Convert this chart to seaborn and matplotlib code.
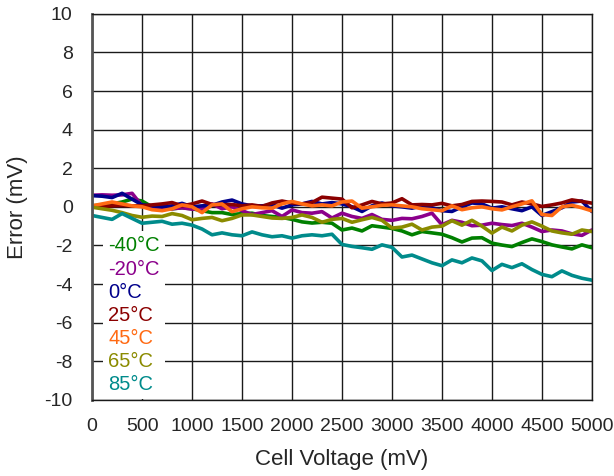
import numpy as np
import pandas as pd
import matplotlib
matplotlib.use("Agg")
import matplotlib.pyplot as plt
import seaborn as sns

# cell voltage in mV, one reading every 100 mV
voltage = list(range(0, 5001, 100))

temps = ["-40°C", "-20°C", "0°C", "25°C", "45°C", "65°C", "85°C"]
colors = ["#008000", "#8B008B", "#00008B", "#8B0000", "#FF6A13", "#8B8B00", "#008B8B"]

err_m40 = [0.05, 0.1, 0.15, 0.25, 0.4, 0.3, 0.0, -0.05, -0.1, -0.05,
           -0.1, -0.2, -0.3, -0.3, -0.4, -0.35, -0.33, -0.45, -0.5, -0.55,
           -0.65, -0.78, -0.84, -0.8, -0.85, -1.2, -1.1, -1.25, -0.98, -1.05,
           -1.12, -1.25, -1.45, -1.28, -1.35, -1.42, -1.6, -1.82, -1.62, -1.6,
           -1.88, -1.98, -2.06, -1.85, -1.66, -1.8, -1.97, -2.08, -2.18, -1.97,
           -2.12]
err_m20 = [0.6, 0.62, 0.6, 0.62, 0.7, 0.05, -0.05, -0.08, -0.1, -0.05,
           -0.12, -0.1, 0.15, -0.1, 0.0, -0.2, -0.4, -0.3, -0.2, -0.5,
           -0.16, -0.3, -0.33, -0.25, -0.58, -0.33, -0.5, -0.6, -0.4, -0.65,
           -0.7, -0.6, -0.62, -0.5, -0.33, -0.93, -0.7, -0.8, -0.98, -0.95,
           -0.85, -0.92, -0.97, -0.85, -1.05, -1.28, -1.2, -1.25, -1.4, -1.48,
           -1.2]
err_0 = [0.58, 0.55, 0.48, 0.7, 0.4, 0.1, 0.05, 0.0, 0.05, 0.18,
         0.0, 0.05, 0.08, 0.25, 0.35, 0.15, 0.05, 0.05, 0.1, -0.07,
         0.1, 0.15, 0.28, 0.15, 0.22, 0.15, 0.0, -0.24, 0.05, 0.2,
         0.05, 0.0, -0.07, 0.05, -0.05, -0.2, -0.24, 0.0, 0.2, 0.15,
         -0.07, 0.0, -0.1, -0.2, 0.0, -0.45, -0.25, -0.05, 0.25, 0.3,
         -0.24]
err_25 = [0.05, 0.02, 0.05, 0.07, 0.05, 0.05, 0.1, 0.15, 0.22, 0.05,
          0.15, 0.3, 0.12, 0.1, 0.12, 0.05, 0.1, 0.02, 0.2, 0.3,
          0.2, 0.15, 0.22, 0.5, 0.45, 0.4, -0.05, 0.1, 0.28, 0.15,
          0.2, 0.42, 0.1, 0.12, 0.1, 0.18, 0.05, 0.12, 0.28, 0.3,
          0.28, 0.25, 0.1, 0.25, 0.15, 0.02, 0.1, 0.2, 0.36, 0.28,
          0.19]
err_45 = [0.05, 0.15, 0.25, 0.15, 0.05, 0.0, -0.15, -0.2, -0.1, 0.1,
          0.0, -0.3, 0.1, 0.15, -0.25, -0.1, 0.0, -0.05, -0.07, 0.15,
          0.28, 0.15, 0.05, 0.1, 0.05, 0.25, 0.3, -0.07, 0.0, 0.08,
          0.1, 0.05, 0.0, -0.1, -0.15, -0.2, 0.05, -0.15, -0.05, 0.0,
          -0.1, -0.16, 0.0, 0.15, 0.31, -0.4, -0.45, 0.0, 0.08, -0.05,
          -0.21]
err_65 = [-0.02, -0.1, -0.18, -0.3, -0.45, -0.54, -0.48, -0.5, -0.35, -0.45,
          -0.67, -0.6, -0.55, -0.72, -0.6, -0.42, -0.42, -0.5, -0.58, -0.6,
          -0.55, -0.42, -0.55, -0.8, -0.65, -0.6, -0.8, -0.67, -0.55, -0.7,
          -1.1, -1.05, -0.9, -1.2, -1.05, -1.0, -0.72, -0.95, -0.7, -1.0,
          -1.36, -1.05, -1.25, -0.95, -0.78, -1.0, -1.25, -1.35, -1.42, -1.2,
          -1.28]
err_85 = [-0.45, -0.55, -0.65, -0.35, -0.6, -0.85, -0.8, -0.75, -0.9, -0.85,
          -0.95, -1.15, -1.45, -1.35, -1.45, -1.5, -1.3, -1.45, -1.55, -1.5,
          -1.62, -1.5, -1.45, -1.5, -1.42, -1.95, -2.05, -2.12, -2.2, -1.97,
          -2.1, -2.6, -2.5, -2.7, -2.9, -3.05, -2.75, -2.9, -2.65, -2.8,
          -3.3, -2.98, -3.15, -2.95, -3.25, -3.5, -3.62, -3.32, -3.55, -3.7,
          -3.8]

series = [err_m40, err_m20, err_0, err_25, err_45, err_65, err_85]

frames = []
for t, vals in zip(temps, series):
    frames.append(pd.DataFrame({"Cell Voltage": voltage, "Error": vals, "Temp": t}))
df = pd.concat(frames, ignore_index=True)

sns.set_style("white")
plt.rcParams["font.family"] = ["Liberation Sans", "DejaVu Sans"]
plt.rcParams["axes.unicode_minus"] = False

fig = plt.figure(figsize=(6.14, 4.76), dpi=100)
ax = fig.add_axes([0.150, 0.160, 0.814, 0.811])

sns.lineplot(data=df, x="Cell Voltage", y="Error", hue="Temp", hue_order=temps,
             palette=colors, linewidth=2.6, ax=ax)

ax.set_xlim(0, 5000)
ax.set_ylim(-10, 10)
ax.set_xticks(np.arange(0, 5001, 500))
ax.set_yticks(np.arange(-10, 11, 2))
ax.grid(True, color="#1a1a1a", linewidth=1.0)
ax.set_axisbelow(True)
for s in ax.spines.values():
    s.set_color("#1a1a1a")
    s.set_linewidth(1.0)
ax.spines["left"].set_color("#555555")
ax.spines["left"].set_linewidth(2.0)
ax.tick_params(axis="x", length=0, labelsize=14, pad=13)
ax.tick_params(axis="y", length=0, labelsize=14, pad=14)
ax.set_xlabel("Cell Voltage (mV)", fontsize=16, labelpad=10)
ax.set_ylabel("Error (mV)", fontsize=16, labelpad=12)

leg = ax.legend(loc="lower left", bbox_to_anchor=(0.022, 0.003), borderaxespad=0,
                handlelength=0, handletextpad=0, labelcolor="linecolor",
                fontsize=14.5, labelspacing=0.2, frameon=True, framealpha=1.0,
                facecolor="white", edgecolor="none", borderpad=0.25,
                fancybox=False)
for h in leg.legend_handles:
    h.set_visible(False)

fig.savefig("out.png", dpi=100)
